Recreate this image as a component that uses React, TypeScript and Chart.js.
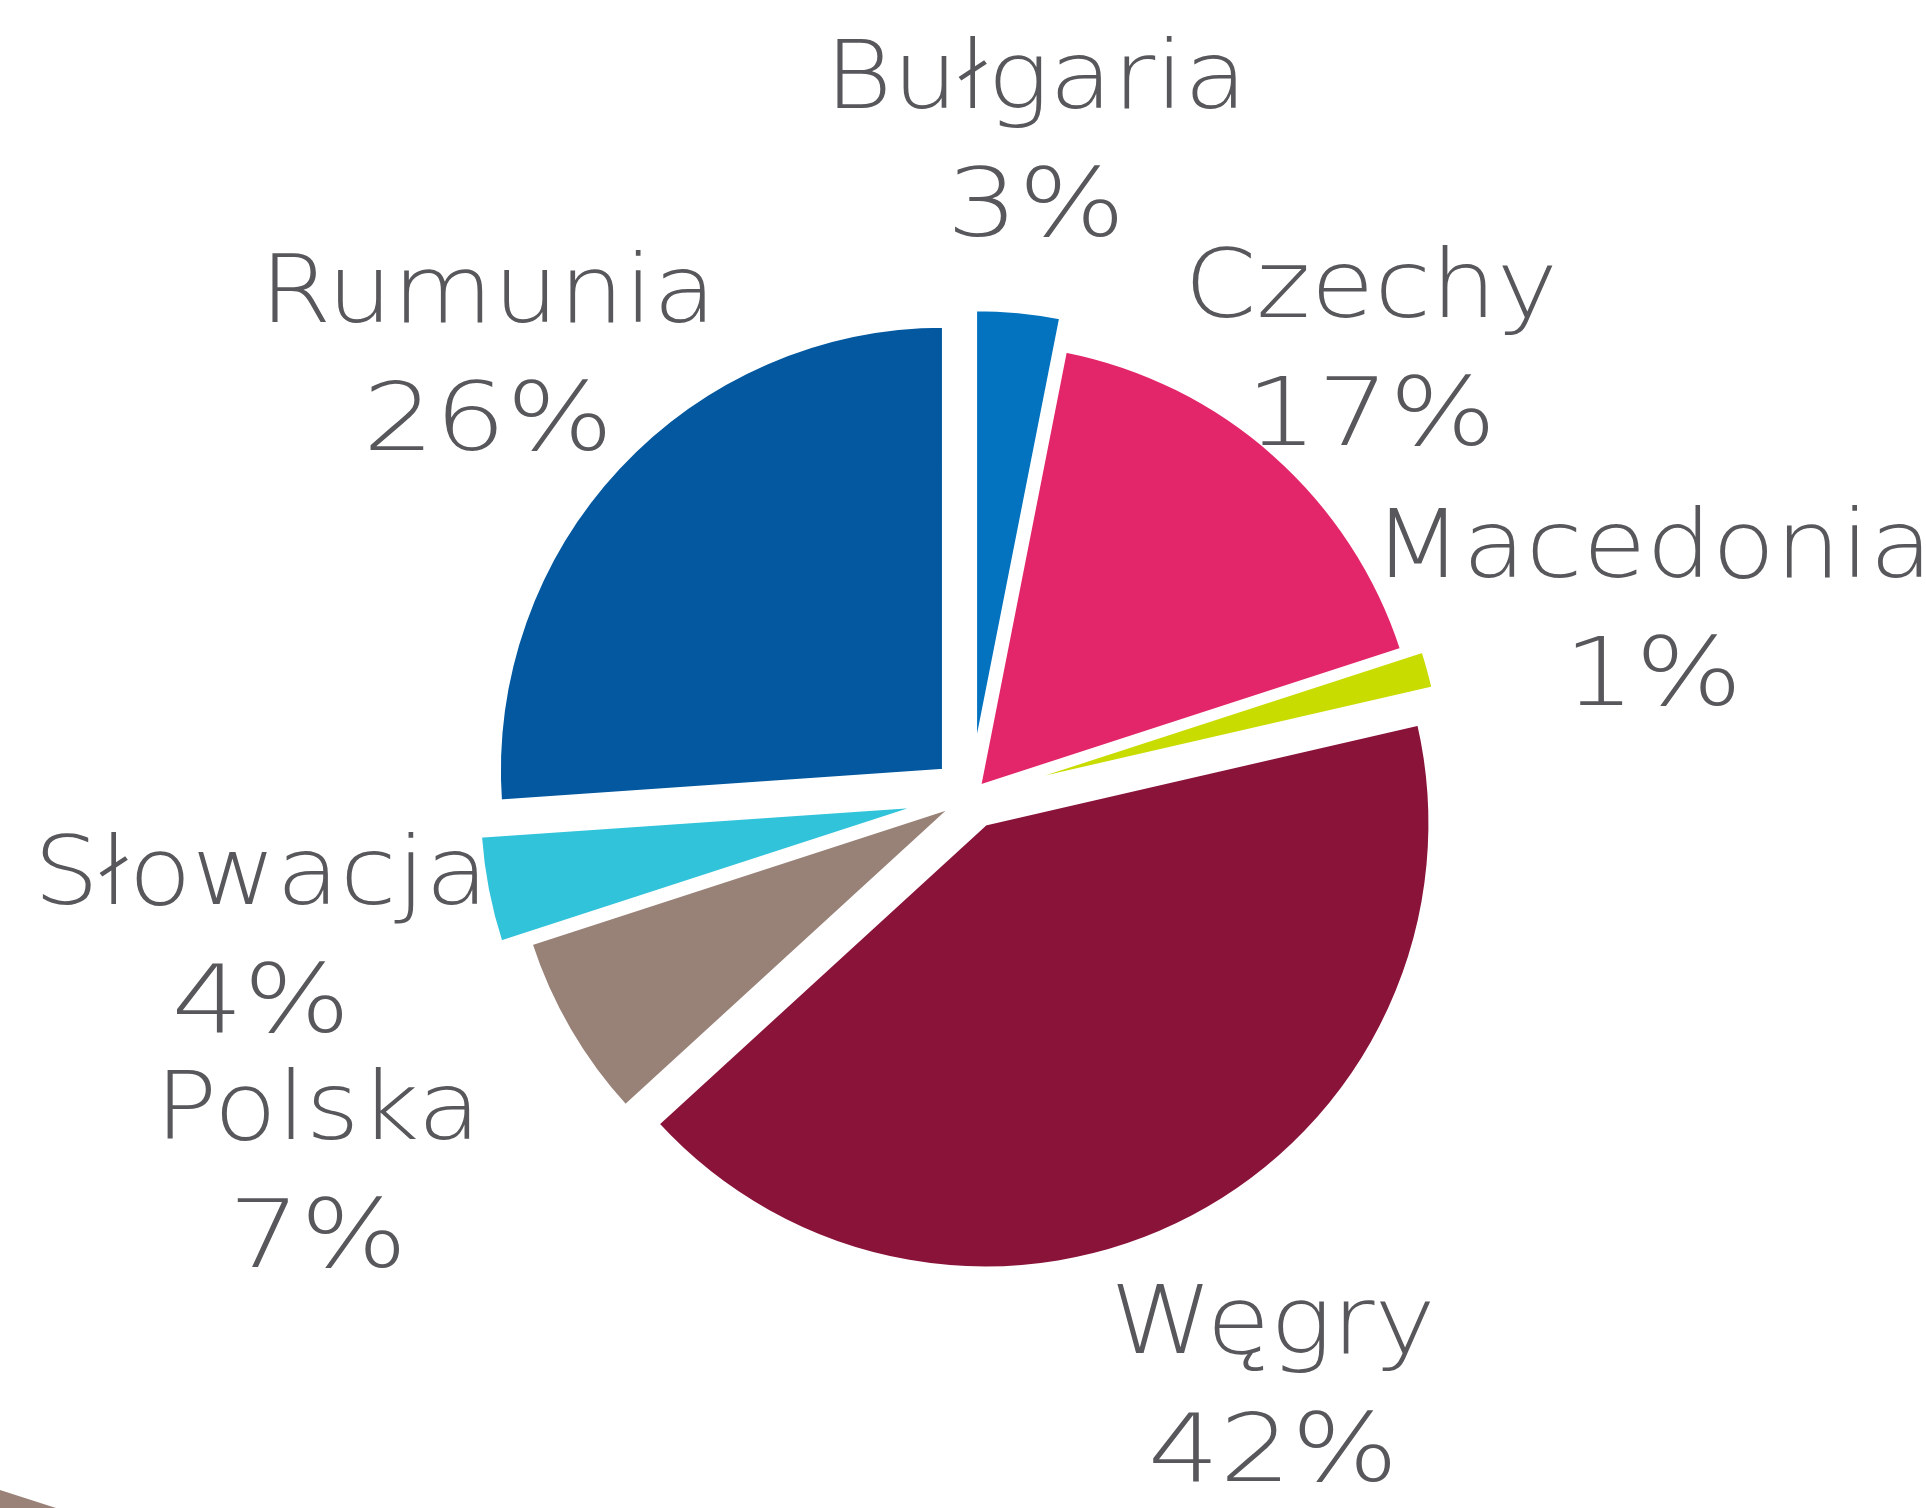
import React, { useEffect, useRef } from "react";
import { Chart, registerables } from "chart.js";

Chart.register(...registerables);

// ---- data ----
const countries = ["Bułgaria", "Czechy", "Macedonia", "Węgry", "Polska", "Słowacja", "Rumunia"];
const shares = [3.1, 16.9, 1.4, 41.8, 6.8, 3.9, 26.1];
const shareLabels = ["3%", "17%", "1%", "42%", "7%", "4%", "26%"];

// ---- styles ----
const sliceColors = ["#0372bf", "#e32669", "#c9dc00", "#8a133a", "#988278", "#30c3da", "#0358a0"];
const explodePx = [42, 12, 30, 31, 20, 48, 37];
// label anchor: [centerX, name baseline]; percentage sits one line below
const labelAnchors = [
  [1036, 108],
  [1371, 317],
  [1653, 577],
  [1273, 1353],
  [318, 1139],
  [261, 904],
  [488, 322],
];
const LINE_GAP = 128;
const LABEL_FONT = '200 94px "DejaVu Sans"';
const LABEL_COLOR = "#58585c";
const NAME_STRETCH = 1.1;
const PCT_STRETCH = 1.2;

const W = 1926;
const H = 1508;
const CX = 971;
const CY = 796;
const RADIUS = 445;

const explodePlugin = {
  id: "explodeSlices",
  afterDatasetUpdate(chart: any, args: any) {
    const meta = args.meta || chart.getDatasetMeta(args.index);
    meta.data.forEach((arc: any, i: number) => {
      const mid = (arc.startAngle + arc.endAngle) / 2;
      const e = explodePx[i] || 0;
      arc.x += Math.cos(mid) * e;
      arc.y += Math.sin(mid) * e;
    });
  },
};

function stretchedText(ctx: CanvasRenderingContext2D, text: string, x: number, y: number, sx: number) {
  ctx.save();
  ctx.translate(x, y);
  ctx.scale(sx, 1);
  ctx.fillText(text, 0, 0);
  ctx.restore();
}

const labelPlugin = {
  id: "sliceLabels",
  afterDraw(chart: any) {
    const ctx = chart.ctx as CanvasRenderingContext2D;
    ctx.save();
    ctx.font = LABEL_FONT;
    ctx.fillStyle = LABEL_COLOR;
    ctx.textAlign = "center";
    ctx.textBaseline = "alphabetic";
    try {
      (ctx as any).letterSpacing = "0px";
    } catch (e) {}
    countries.forEach((name, i) => {
      const [x, y] = labelAnchors[i];
      stretchedText(ctx, name, x, y, NAME_STRETCH);
      stretchedText(ctx, shareLabels[i], x, y + LINE_GAP, PCT_STRETCH);
    });
    ctx.restore();
  },
};

export default function App() {
  const canvasRef = useRef<HTMLCanvasElement | null>(null);

  useEffect(() => {
    document.body.style.margin = "0";
    const canvas = canvasRef.current;
    if (!canvas) return;
    const chart = new Chart(canvas, {
      type: "pie",
      data: {
        labels: countries,
        datasets: [
          {
            data: shares,
            backgroundColor: sliceColors,
            borderColor: "#ffffff",
            borderWidth: 4,
          },
        ],
      },
      options: {
        responsive: false,
        animation: false,
        radius: RADIUS,
        layout: {
          padding: {
            left: 2 * (CX - W / 2),
            top: 2 * (CY - H / 2),
            right: 0,
            bottom: 0,
          },
        },
        plugins: {
          legend: { display: false },
          tooltip: { enabled: false },
        },
      },
      plugins: [explodePlugin, labelPlugin],
    });
    return () => chart.destroy();
  }, []);

  return (
    <div style={{ position: "fixed", left: 0, top: 0, width: W, height: H, background: "#fff" }}>
      <canvas ref={canvasRef} width={W} height={H} style={{ width: W, height: H, display: "block" }} />
      <div
        style={{
          position: "absolute",
          left: 0,
          top: H - 20,
          width: 56,
          height: 20,
          background: "#9a8278",
          clipPath: "polygon(0 10%, 100% 100%, 0 100%)",
        }}
      />
    </div>
  );
}
